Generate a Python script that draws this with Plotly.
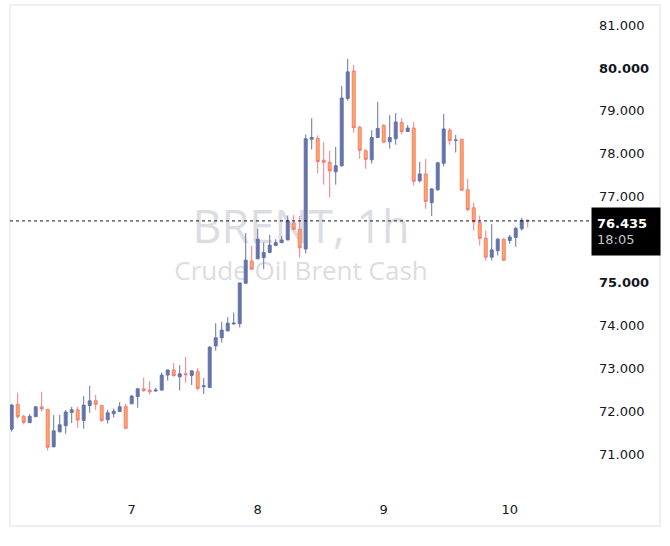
import plotly.graph_objects as go

# ---- data (hourly candles, index 0..86) ----
opens = [71.58, 72.16, 71.88, 71.73, 71.87, 72.10, 72.04, 71.17, 71.52, 71.66,
         71.97, 72.03, 71.78, 72.13, 72.24, 72.13, 71.80, 71.94, 71.99, 72.11,
         72.17, 72.34, 72.52, 72.49, 72.47, 72.49, 72.84, 72.96, 72.80, 72.87,
         72.83, 72.92, 72.57, 72.55, 73.52, 73.71, 73.87, 74.03, 74.04, 74.98,
         75.50, 75.55, 75.58, 75.70, 75.86, 75.93, 75.99, 76.39, 76.24, 75.78,
         78.34, 78.36, 77.85, 77.80, 77.58, 77.72, 79.29, 79.93, 78.62, 78.07,
         77.86, 78.38, 78.66, 78.28, 78.35, 78.73, 78.52, 78.60, 77.37, 77.53,
         76.86, 77.16, 77.78, 78.55, 78.31, 78.34, 77.16, 76.74, 76.40, 76.03,
         75.59, 75.74, 76.01, 75.98, 76.05, 76.25, 76.45]
highs = [72.17, 72.43, 71.91, 71.93, 72.12, 72.45, 72.05, 71.91, 71.91, 72.03,
         72.10, 72.10, 72.35, 72.59, 72.38, 72.14, 72.03, 72.06, 72.21, 72.17,
         72.38, 72.54, 72.78, 72.70, 72.54, 72.90, 72.96, 73.12, 73.07, 73.26,
         72.94, 73.00, 72.77, 73.52, 74.05, 74.08, 74.19, 74.30, 74.99, 76.15,
         75.85, 76.25, 75.93, 76.11, 76.01, 76.08, 76.56, 76.57, 76.55, 78.45,
         78.83, 78.43, 78.27, 78.07, 78.16, 79.58, 80.21, 80.07, 78.65, 78.11,
         78.55, 79.21, 78.69, 78.90, 78.95, 78.83, 78.67, 78.74, 77.81, 77.88,
         77.20, 77.81, 78.93, 78.60, 78.44, 78.34, 77.41, 76.86, 76.56, 76.21,
         76.36, 76.03, 76.03, 76.11, 76.30, 76.51, 76.47]
lows = [71.52, 71.82, 71.69, 71.73, 71.87, 71.99, 71.08, 71.15, 71.50, 71.47,
        71.72, 71.61, 71.59, 71.96, 72.03, 71.75, 71.71, 71.85, 71.99, 71.60,
        72.17, 72.08, 72.45, 72.39, 72.45, 72.48, 72.71, 72.80, 72.48, 72.66,
        72.61, 72.48, 72.40, 72.55, 73.41, 73.60, 73.87, 74.03, 73.95, 74.98,
        75.31, 75.55, 75.31, 75.68, 75.86, 75.91, 75.99, 76.22, 75.58, 75.68,
        78.10, 77.54, 77.28, 76.98, 77.28, 77.70, 79.24, 78.49, 77.88, 77.65,
        77.77, 78.38, 78.27, 78.12, 78.21, 78.45, 78.52, 77.26, 77.33, 76.72,
        76.55, 77.14, 77.71, 78.21, 78.03, 77.15, 76.66, 76.21, 75.86, 75.51,
        75.51, 75.63, 75.50, 75.90, 75.83, 76.21, 76.28]
closes = [72.14, 71.87, 71.74, 71.88, 72.10, 72.05, 71.16, 71.54, 71.68, 71.98,
          72.03, 71.79, 72.14, 72.24, 72.16, 71.78, 71.96, 72.00, 72.10, 71.60,
          72.35, 72.52, 72.48, 72.45, 72.49, 72.84, 72.96, 72.83, 72.87, 72.85,
          72.94, 72.53, 72.59, 73.49, 73.71, 73.89, 74.05, 74.05, 74.99, 75.52,
          75.31, 76.01, 75.70, 75.87, 75.93, 75.99, 76.43, 76.24, 75.81, 78.35,
          78.38, 77.82, 77.80, 77.60, 77.72, 79.30, 79.91, 78.61, 78.08, 77.87,
          78.38, 78.59, 78.27, 78.38, 78.74, 78.52, 78.60, 77.36, 77.53, 76.89,
          77.18, 77.79, 78.58, 78.31, 78.32, 77.15, 76.70, 76.41, 76.03, 75.59,
          75.76, 76.01, 75.52, 76.06, 76.26, 76.45, 76.435]
idx = list(range(len(opens)))

day_tick_index = [20, 41, 62, 83]
day_tick_labels = ["7", "8", "9", "10"]
price_ticks = [71, 72, 73, 74, 75, 76, 77, 78, 79, 80, 81]
price_tick_labels = ["71.000", "72.000", "73.000", "74.000", "<b>75.000</b>", "",
                     "77.000", "78.000", "79.000", "<b>80.000</b>", "81.000"]
last_price = 76.435
countdown = "18:05"
symbol_title = "BRENT, 1h"
symbol_desc = "Crude Oil Brent Cash"

UP = "#6474a8"
DOWN_FILL = "#ffac4e"
DOWN_LINE = "#f27a80"
TXT = "#131722"
FONT = "DejaVu Sans"

fig = go.Figure()
fig.add_trace(go.Candlestick(
    x=idx, open=opens, high=highs, low=lows, close=closes,
    increasing=dict(fillcolor=UP, line=dict(color=UP, width=1)),
    decreasing=dict(fillcolor=DOWN_FILL, line=dict(color=DOWN_LINE, width=1)),
    whiskerwidth=0, hoverinfo="skip", showlegend=False,
))

# plot area: x 10..590, y 5..480
W, H = 670, 546
L, R, T, B = 10, 80, 5, 66
pw, ph = W - L - R, H - T - B

def px_to_paper_x(px):
    return (px - L) / pw

def px_to_paper_y(py):
    return (H - B - py) / ph

shapes = []
# frame
shapes.append(dict(type="rect", xref="paper", yref="paper",
                   x0=px_to_paper_x(10), x1=px_to_paper_x(660),
                   y0=px_to_paper_y(526), y1=px_to_paper_y(5),
                   line=dict(color="#eeeff2", width=2), fillcolor="rgba(0,0,0,0)",
                   layer="below"))
# watermark lines (below traces)
shapes.append(dict(type="rect", xref="paper", yref="paper",
                   x0=px_to_paper_x(150), x1=px_to_paper_x(452),
                   y0=px_to_paper_y(252), y1=px_to_paper_y(204),
                   line=dict(width=0), fillcolor="rgba(0,0,0,0)", layer="below",
                   label=dict(text=symbol_title, textposition="middle center",
                              font=dict(family="Open Sans", size=45, color="#dcdde2"))))
shapes.append(dict(type="rect", xref="paper", yref="paper",
                   x0=px_to_paper_x(150), x1=px_to_paper_x(452),
                   y0=px_to_paper_y(287), y1=px_to_paper_y(257),
                   line=dict(width=0), fillcolor="rgba(0,0,0,0)", layer="below",
                   label=dict(text=symbol_desc, textposition="middle center",
                              font=dict(family="Open Sans", size=26, color="#dcdde2"))))
# last-price dotted line
shapes.append(dict(type="line", xref="paper", yref="y", x0=0, x1=1,
                   y0=last_price, y1=last_price,
                   line=dict(color="#131722", width=1, dash="dot")))

annotations = [dict(
    xref="paper", yref="y", x=1.0, y=last_price, xanchor="left", yanchor="top",
    yshift=14, xshift=1,
    text=f"<b>{last_price:.3f}</b><br><span style='color:#c3c5cc'>{countdown}</span>",
    showarrow=False, align="left", bgcolor="#000000", width=58, height=37,
    borderpad=5, font=dict(family=FONT, size=13, color="#ffffff"),
)]

fig.update_layout(
    width=W, height=H, autosize=False,
    margin=dict(l=L, r=R, t=T, b=B),
    paper_bgcolor="#ffffff", plot_bgcolor="#ffffff",
    shapes=shapes, annotations=annotations,
    showlegend=False, dragmode=False, hovermode=False,
    xaxis=dict(range=[-0.283, 96.38], tickvals=day_tick_index, ticktext=day_tick_labels,
               showgrid=False, zeroline=False, showline=False, ticks="",
               tickfont=dict(family=FONT, size=13, color=TXT),
               rangeslider=dict(visible=False), ticklabelstandoff=20, fixedrange=True),
    yaxis=dict(range=[70.394, 81.469], side="right", tickvals=price_ticks,
               ticktext=price_tick_labels, showgrid=False, zeroline=False,
               showline=False, ticks="", tickfont=dict(family=FONT, size=13, color=TXT),
               ticklabelstandoff=8, fixedrange=True),
)

fig.write_html("out.html")
